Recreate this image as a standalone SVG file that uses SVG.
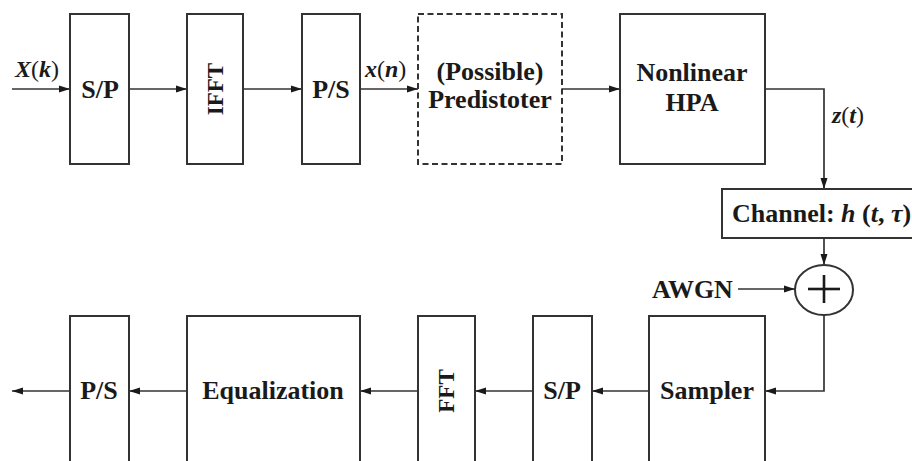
<svg xmlns="http://www.w3.org/2000/svg" width="912" height="461" viewBox="0 0 912 461">
<defs>
<marker id="ah" markerWidth="11" markerHeight="8" refX="11" refY="4" orient="auto" markerUnits="userSpaceOnUse">
<path d="M0,0.5 L11,4 L0,7.5 z" fill="#1a1a1a"/>
</marker>
</defs>
<rect width="912" height="461" fill="#fff"/>

<g id="connectors" fill="none" stroke="#333" stroke-width="1.7">
<line x1="12" y1="89" x2="70" y2="89" marker-end="url(#ah)"/>
<line x1="129" y1="89" x2="187" y2="89" marker-end="url(#ah)"/>
<line x1="243" y1="89" x2="302" y2="89" marker-end="url(#ah)"/>
<line x1="360" y1="89" x2="418" y2="89" marker-end="url(#ah)"/>
<line x1="562" y1="89" x2="620" y2="89" marker-end="url(#ah)"/>
<polyline points="765,89 824,89 824,189" marker-end="url(#ah)"/>
<line x1="824" y1="238" x2="824" y2="265" marker-end="url(#ah)"/>
<line x1="738" y1="289" x2="795" y2="289" marker-end="url(#ah)"/>
<polyline points="824,315 824,391 765,391" marker-end="url(#ah)"/>
<line x1="649" y1="391" x2="592" y2="391" marker-end="url(#ah)"/>
<line x1="533" y1="391" x2="475" y2="391" marker-end="url(#ah)"/>
<line x1="418" y1="391" x2="360" y2="391" marker-end="url(#ah)"/>
<line x1="187" y1="391" x2="129" y2="391" marker-end="url(#ah)"/>
<line x1="70" y1="391" x2="12" y2="391" marker-end="url(#ah)"/>
</g>
<g id="labels" fill="#1a1a1a">
<text x="15" y="77" font-family="Liberation Serif" style="font-family:'Liberation Serif',serif" font-size="24"><tspan font-style="italic" font-weight="bold">X</tspan>(<tspan font-style="italic" font-weight="bold">k</tspan>)</text>
<text x="365" y="77" font-family="Liberation Serif" style="font-family:'Liberation Serif',serif" font-size="24"><tspan font-style="italic" font-weight="bold">x</tspan>(<tspan font-style="italic" font-weight="bold">n</tspan>)</text>
<text x="832" y="123" font-family="Liberation Serif" style="font-family:'Liberation Serif',serif" font-size="24"><tspan font-style="italic" font-weight="bold">z</tspan>(<tspan font-style="italic" font-weight="bold">t</tspan>)</text>
<text x="652" y="298" font-family="Liberation Serif" style="font-family:'Liberation Serif',serif" font-weight="bold" font-size="26">AWGN</text>
</g>

<g id="sp-tx"><rect x="70" y="14" width="59" height="150" fill="#fff" stroke="#333" stroke-width="2"/><text x="100" y="98" font-family="Liberation Serif" style="font-family:'Liberation Serif',serif" font-weight="bold" font-size="26" fill="#1a1a1a" text-anchor="middle">S/P</text></g>
<g id="ifft"><rect x="187" y="14" width="56" height="150" fill="#fff" stroke="#333" stroke-width="2"/><text transform="translate(223,89) rotate(-90)" font-family="Liberation Serif" style="font-family:'Liberation Serif',serif" font-weight="bold" font-size="23" fill="#1a1a1a" text-anchor="middle">IFFT</text></g>
<g id="ps-tx"><rect x="302" y="14" width="58" height="150" fill="#fff" stroke="#333" stroke-width="2"/><text x="331" y="98" font-family="Liberation Serif" style="font-family:'Liberation Serif',serif" font-weight="bold" font-size="26" fill="#1a1a1a" text-anchor="middle">P/S</text></g>
<g id="predistorter"><rect x="418" y="14" width="144" height="150" fill="#fff" stroke="#333" stroke-width="2" stroke-dasharray="6,3.5"/><text x="490" y="80" font-family="Liberation Serif" style="font-family:'Liberation Serif',serif" font-weight="bold" font-size="26" fill="#1a1a1a" text-anchor="middle">(Possible)</text><text x="490" y="108" font-family="Liberation Serif" style="font-family:'Liberation Serif',serif" font-weight="bold" font-size="26" fill="#1a1a1a" text-anchor="middle">Predistoter</text></g>
<g id="hpa"><rect x="620" y="14" width="145" height="150" fill="#fff" stroke="#333" stroke-width="2"/><text x="692" y="81" font-family="Liberation Serif" style="font-family:'Liberation Serif',serif" font-weight="bold" font-size="26" fill="#1a1a1a" text-anchor="middle">Nonlinear</text><text x="692" y="111" font-family="Liberation Serif" style="font-family:'Liberation Serif',serif" font-weight="bold" font-size="26" fill="#1a1a1a" text-anchor="middle">HPA</text></g>
<g id="channel"><rect x="722" y="189" width="200" height="49" fill="#fff" stroke="#333" stroke-width="2"/><text x="732" y="222" font-family="Liberation Serif" style="font-family:'Liberation Serif',serif" font-weight="bold" font-size="26" fill="#1a1a1a">Channel: <tspan font-style="italic">h</tspan> (<tspan font-style="italic">t</tspan>, <tspan font-style="italic">τ</tspan>)</text></g>
<g id="adder"><ellipse cx="824" cy="290" rx="29" ry="25" fill="#fff" stroke="#333" stroke-width="2"/><line x1="808" y1="289" x2="840" y2="289" stroke="#1a1a1a" stroke-width="2.6"/><line x1="824" y1="275" x2="824" y2="303" stroke="#1a1a1a" stroke-width="2.6"/></g>
<g id="sampler"><rect x="649" y="316" width="116" height="160" fill="#fff" stroke="#333" stroke-width="2"/><text x="707" y="399" font-family="Liberation Serif" style="font-family:'Liberation Serif',serif" font-weight="bold" font-size="26" fill="#1a1a1a" text-anchor="middle">Sampler</text></g>
<g id="sp-rx"><rect x="533" y="316" width="59" height="160" fill="#fff" stroke="#333" stroke-width="2"/><text x="562" y="399" font-family="Liberation Serif" style="font-family:'Liberation Serif',serif" font-weight="bold" font-size="26" fill="#1a1a1a" text-anchor="middle">S/P</text></g>
<g id="fft"><rect x="418" y="316" width="57" height="160" fill="#fff" stroke="#333" stroke-width="2"/><text transform="translate(454,391) rotate(-90)" font-family="Liberation Serif" style="font-family:'Liberation Serif',serif" font-weight="bold" font-size="23" fill="#1a1a1a" text-anchor="middle">FFT</text></g>
<g id="equalization"><rect x="187" y="316" width="173" height="160" fill="#fff" stroke="#333" stroke-width="2"/><text x="273" y="399" font-family="Liberation Serif" style="font-family:'Liberation Serif',serif" font-weight="bold" font-size="26" fill="#1a1a1a" text-anchor="middle">Equalization</text></g>
<g id="ps-rx"><rect x="70" y="316" width="59" height="160" fill="#fff" stroke="#333" stroke-width="2"/><text x="99" y="399" font-family="Liberation Serif" style="font-family:'Liberation Serif',serif" font-weight="bold" font-size="26" fill="#1a1a1a" text-anchor="middle">P/S</text></g>
</svg>
